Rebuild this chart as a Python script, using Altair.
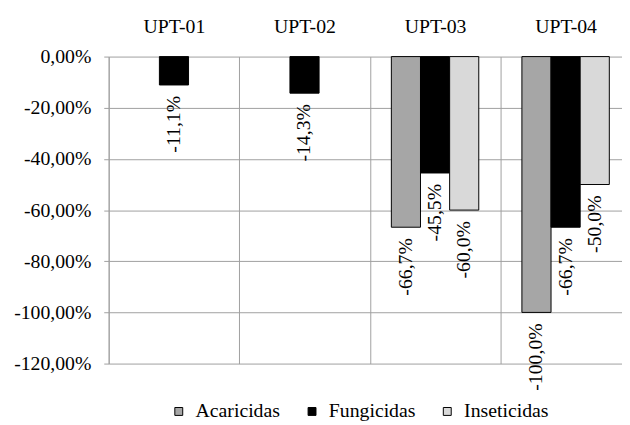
import altair as alt
import pandas as pd

categorias = ["UPT-01", "UPT-02", "UPT-03", "UPT-04"]
series = ["Acaricidas", "Fungicidas", "Inseticidas"]
acaricidas = [None, None, -0.667, -1.000]
fungicidas = [-0.111, -0.143, -0.455, -0.667]
inseticidas = [None, None, -0.600, -0.500]
y_ticks = [0, -0.2, -0.4, -0.6, -0.8, -1.0, -1.2]
cores = ["#A6A6A6", "#000000", "#D9D9D9"]

rows = []
for s, vals in zip(series, [acaricidas, fungicidas, inseticidas]):
    for c, v in zip(categorias, vals):
        if v is not None:
            rows.append({"UPT": c, "Tipo": s, "valor": v})
df = pd.DataFrame(rows)

FONT = "Liberation Serif"
GRID = "#A0A0A0"
MINUS = "\u2212"

x_enc = alt.X(
    "UPT:N",
    scale=alt.Scale(domain=categorias, paddingInner=0, paddingOuter=0),
    axis=alt.Axis(orient="top", title=None, labelAngle=0, ticks=False, tickSize=0,
                  domain=False, grid=True, tickBand="extent", gridColor=GRID,
                  labelFont=FONT, labelFontSize=20, labelColor="black", labelPadding=20),
)
xo_enc = alt.XOffset("Tipo:N", scale=alt.Scale(domain=series, paddingInner=0, paddingOuter=0.74))
y_enc = alt.Y(
    "valor:Q",
    scale=alt.Scale(domain=[-1.2, 0], nice=False),
    axis=alt.Axis(title=None, values=y_ticks, grid=True, gridColor=GRID,
                  domainColor=GRID, tickColor=GRID, tickSize=5, labelPadding=13,
                  labelFont=FONT, labelFontSize=20, labelColor="black",
                  labelExpr=f"replace(replace(format(datum.value, '.2%'), '.', ','), '{MINUS}', '-')"),
)

base = alt.Chart(df)

bars = base.mark_bar(stroke="black", strokeWidth=1).encode(
    x=x_enc,
    xOffset=xo_enc,
    y=y_enc,
    color=alt.Color(
        "Tipo:N",
        scale=alt.Scale(domain=series, range=cores),
        legend=alt.Legend(orient="none", legendX=61, legendY=349.5, direction="horizontal",
                          title=None, symbolType="square", symbolSize=64,
                          symbolStrokeColor="black", symbolStrokeWidth=1,
                          labelFont=FONT, labelFontSize=20, labelColor="black",
                          columnPadding=22, labelOffset=7),
    ),
)

labels = base.mark_text(angle=270, align="right", baseline="middle", yOffset=11, xOffset=1,
                        font=FONT, fontSize=20, color="black").encode(
    x=x_enc,
    xOffset=xo_enc,
    y=y_enc,
    text="rotulo:N",
).transform_calculate(
    rotulo=f"replace(replace(format(datum.valor, '.1%'), '.', ','), '{MINUS}', '-')"
)

chart = alt.layer(bars, labels).properties(
    width=529,
    height=311,
    autosize=alt.AutoSizeParams(type="none"),
    padding={"left": 102, "top": 46.5, "right": -9, "bottom": 59.5},
).configure_view(stroke=None)

chart.save("out.html", embed_options={"renderer": "svg", "actions": False})
